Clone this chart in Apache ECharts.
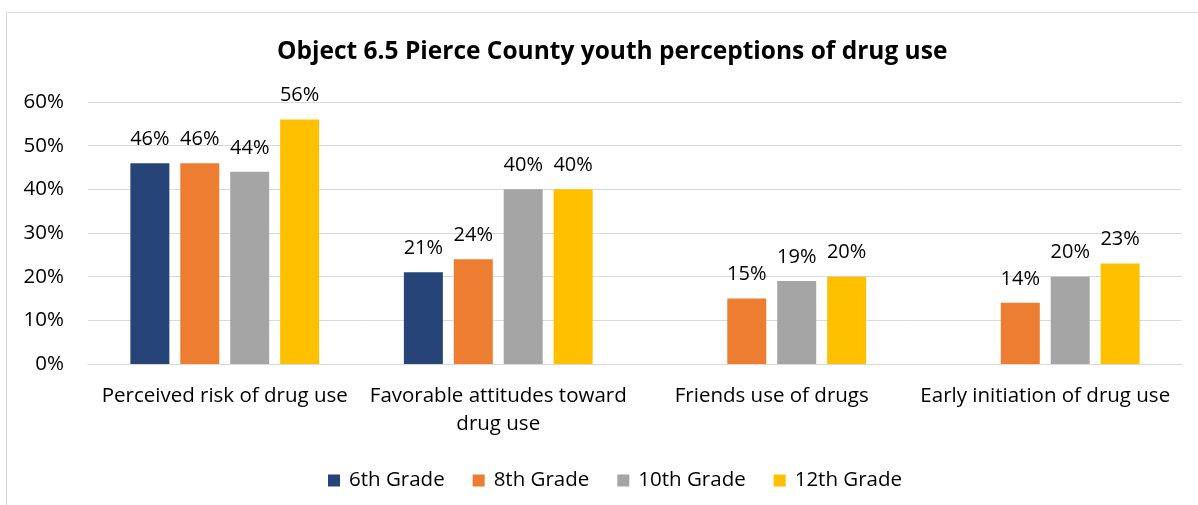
<!DOCTYPE html>
<html>
<head>
<meta charset="utf-8">
<script src="https://cdn.jsdelivr.net/npm/echarts@6/dist/echarts.min.js"></script>
<style>
  html, body { margin: 0; padding: 0; background: #fff; }
  #chart { width: 1198px; height: 505px; }
</style>
</head>
<body>
<div id="chart"></div>
<script>
// Survey measures along the x axis
const categories = [
  'Perceived risk of drug use',
  'Favorable attitudes toward\ndrug use',
  'Friends use of drugs',
  'Early initiation of drug use'
];
// Percent of youth by grade (null = not reported)
const grade6 = [46, 21, null, null];
const grade8 = [46, 24, 15, 14];
const grade10 = [44, 40, 19, 20];
const grade12 = [56, 40, 20, 23];
const seriesNames = ['6th Grade', '8th Grade', '10th Grade', '12th Grade'];
const yTicks = [0, 10, 20, 30, 40, 50, 60];

const colors = ['#264478', '#ed7d31', '#a5a5a5', '#ffc000'];
const FONT = '"Open Sans", "Noto Sans", sans-serif';
const FS = 20.5;

const chart = echarts.init(document.getElementById('chart'));

const makeSeries = (name, data, i) => ({
  name: name,
  type: 'bar',
  data: data,
  barWidth: 39,
  barGap: '28%',
  itemStyle: { color: colors[i] },
  label: {
    show: true,
    position: 'top',
    distance: 14,
    formatter: p => p.value + '%',
    color: '#000',
    fontSize: 20,
    fontFamily: FONT
  }
});

chart.setOption({
  animation: false,
  graphic: [{
    type: 'rect',
    shape: { x: 6.5, y: 12.5, width: 1200, height: 500 },
    style: { fill: 'none', stroke: '#d9d9d9', lineWidth: 1 },
    silent: true
  }],
  title: {
    text: 'Object 6.5 Pierce County youth perceptions of drug use',
    left: 272,
    top: 35,
    textStyle: { fontFamily: FONT, fontWeight: 'bold', fontSize: 24.5, color: '#000' }
  },
  legend: {
    data: seriesNames,
    left: 323,
    top: 465,
    itemWidth: 12,
    itemHeight: 12,
    itemGap: 28,
    icon: 'rect',
    textStyle: { fontFamily: FONT, fontSize: FS, color: '#000', padding: [0, 0, 0, 4] }
  },
  grid: { left: 88, right: 16, top: 102, bottom: 141, containLabel: false },
  xAxis: {
    type: 'category',
    data: categories,
    axisLine: { lineStyle: { color: '#d9d9d9', width: 1 } },
    axisTick: { show: false },
    axisLabel: {
      interval: 0,
      margin: 18,
      color: '#000',
      fontSize: FS,
      lineHeight: 28,
      fontFamily: FONT
    }
  },
  yAxis: {
    type: 'value',
    min: yTicks[0],
    max: yTicks[yTicks.length - 1],
    interval: 10,
    axisLine: { show: false },
    axisTick: { show: false },
    splitLine: { lineStyle: { color: '#d9d9d9', width: 1 } },
    axisLabel: {
      margin: 24,
      color: '#000',
      fontSize: FS,
      fontFamily: FONT,
      formatter: '{value}%'
    }
  },
  series: [
    makeSeries(seriesNames[0], grade6, 0),
    makeSeries(seriesNames[1], grade8, 1),
    makeSeries(seriesNames[2], grade10, 2),
    makeSeries(seriesNames[3], grade12, 3)
  ]
});
</script>
</body>
</html>
